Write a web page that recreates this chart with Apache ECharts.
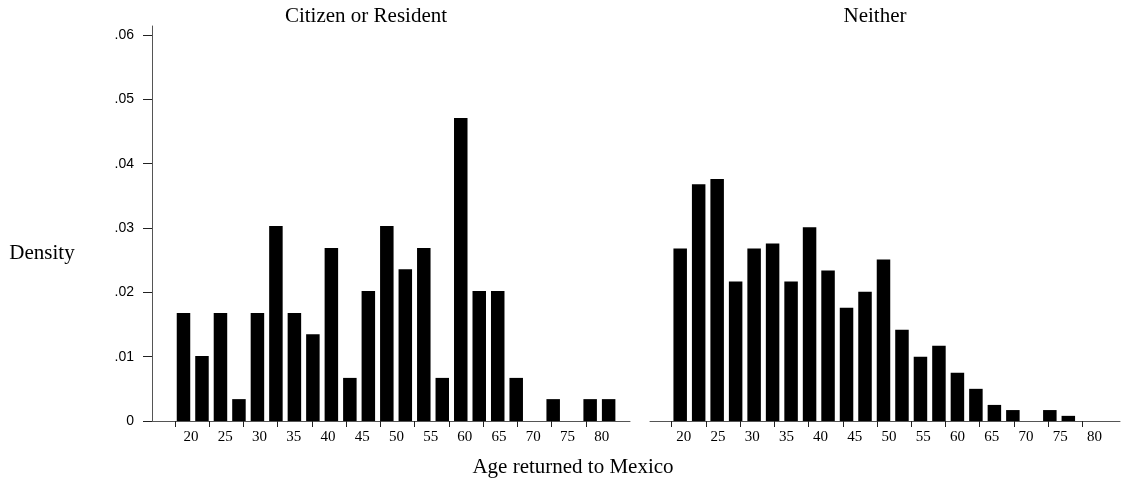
<!DOCTYPE html>
<html>
<head>
<meta charset="utf-8">
<script src="https://cdn.jsdelivr.net/npm/echarts@6/dist/echarts.min.js"></script>
<style>
  html, body { margin: 0; padding: 0; background: #fff; }
  #chart { width: 1122px; height: 481px; }
</style>
</head>
<body>
<div id="chart"></div>
<script>
// ---- data ----
// centre of each 2.7-year age bin
const binAges = [18.9, 21.6, 24.3, 27.0, 29.7, 32.4, 35.1, 37.8, 40.5, 43.2, 45.9, 48.6,
                 51.3, 54.0, 56.7, 59.4, 62.1, 64.8, 67.5, 70.2, 72.9, 75.6, 78.3, 81.0];
const panelTitles = ['Citizen or Resident', 'Neither'];
const citizenDensity = [0.0168, 0.0101, 0.0168, 0.0034, 0.0168, 0.0303, 0.0168, 0.0135,
                        0.0269, 0.0067, 0.0202, 0.0303, 0.0236, 0.0269, 0.0067, 0.0471,
                        0.0202, 0.0202, 0.0067, 0, 0.0034, 0, 0.0034, 0.0034];
const neitherDensity = [0.0268, 0.0368, 0.0376, 0.0217, 0.0268, 0.0276, 0.0217, 0.0301,
                        0.0234, 0.0176, 0.0201, 0.0251, 0.0142, 0.0100, 0.0117, 0.0075,
                        0.0050, 0.0025, 0.0017, 0, 0.0017, 0.0008];
const xLabelValues = [20, 25, 30, 35, 40, 45, 50, 55, 60, 65, 70, 75, 80];
const xTickValues = [17.66, 22.66, 27.66, 32.66, 37.66, 42.66, 47.66, 52.66, 57.66, 62.66, 67.66, 72.66, 77.66];
const yTickValues = [0, 0.01, 0.02, 0.03, 0.04, 0.05, 0.06];
const xTitle = 'Age returned to Mexico';
const yTitle = 'Density';

// ---- chart ----
const serif = "'Liberation Serif', 'Times New Roman', serif";
const sans = "'Liberation Sans', Arial, sans-serif";
const axisColor = '#555';

function pairs(vals) {
  return vals.map((v, i) => [binAges[i], v]);
}

function xAxisFor(gridIndex, min, max, labelPad) {
  return {
    type: 'value', gridIndex, min, max,
    axisLine: { show: true, lineStyle: { color: axisColor, width: 1 } },
    axisTick: { show: true, inside: false, length: 6, customValues: xTickValues,
                lineStyle: { color: '#222', width: 1 } },
    axisLabel: { show: true, customValues: xLabelValues, margin: 9,
                 fontFamily: serif, fontSize: 15, color: '#000',
                 padding: labelPad },
    splitLine: { show: false }
  };
}

const chart = echarts.init(document.getElementById('chart'), null, { renderer: 'canvas' });
chart.setOption({
  animation: false,
  backgroundColor: '#fff',
  grid: [
    { left: 152, top: 26, width: 478, bottom: 60 },
    { left: 650, top: 26, width: 470, bottom: 60 }
  ],
  xAxis: [
    xAxisFor(0, 14.30, 84.12, [0, 0, 0, 0]),
    xAxisFor(1, 14.49, 83.15, [0, 8, 0, 0])
  ],
  yAxis: [
    {
      type: 'value', gridIndex: 0, min: 0, max: 0.0614,
      axisLine: { show: true, lineStyle: { color: axisColor, width: 1 } },
      axisTick: { show: true, inside: false, length: 9, customValues: yTickValues,
                  lineStyle: { color: '#222', width: 1 } },
      axisLabel: { show: true, customValues: yTickValues, margin: 18,
                   fontFamily: sans, fontSize: 14, color: '#000',
                   formatter: v => v === 0 ? '0' : v.toFixed(2).replace(/^0/, '') },
      splitLine: { show: false }
    },
    {
      type: 'value', gridIndex: 1, min: 0, max: 0.0614, show: false,
      splitLine: { show: false }
    }
  ],
  series: [
    {
      name: panelTitles[0], type: 'bar', xAxisIndex: 0, yAxisIndex: 0,
      data: pairs(citizenDensity), barWidth: 13.5,
      itemStyle: { color: '#000', borderWidth: 0 }
    },
    {
      name: panelTitles[1], type: 'bar', xAxisIndex: 1, yAxisIndex: 1,
      data: pairs(neitherDensity), barWidth: 13.5,
      itemStyle: { color: '#000', borderWidth: 0 }
    }
  ],
  graphic: [
    { type: 'text', x: 366, y: 16, style: { text: panelTitles[0], font: '21px ' + serif,
      fill: '#000', align: 'center', verticalAlign: 'middle' } },
    { type: 'text', x: 875, y: 16, style: { text: panelTitles[1], font: '21px ' + serif,
      fill: '#000', align: 'center', verticalAlign: 'middle' } },
    { type: 'text', x: 42, y: 253, style: { text: yTitle, font: '21px ' + serif,
      fill: '#000', align: 'center', verticalAlign: 'middle' } },
    { type: 'text', x: 573, y: 467, style: { text: xTitle, font: '21px ' + serif,
      fill: '#000', align: 'center', verticalAlign: 'middle' } }
  ]
});
</script>
</body>
</html>
